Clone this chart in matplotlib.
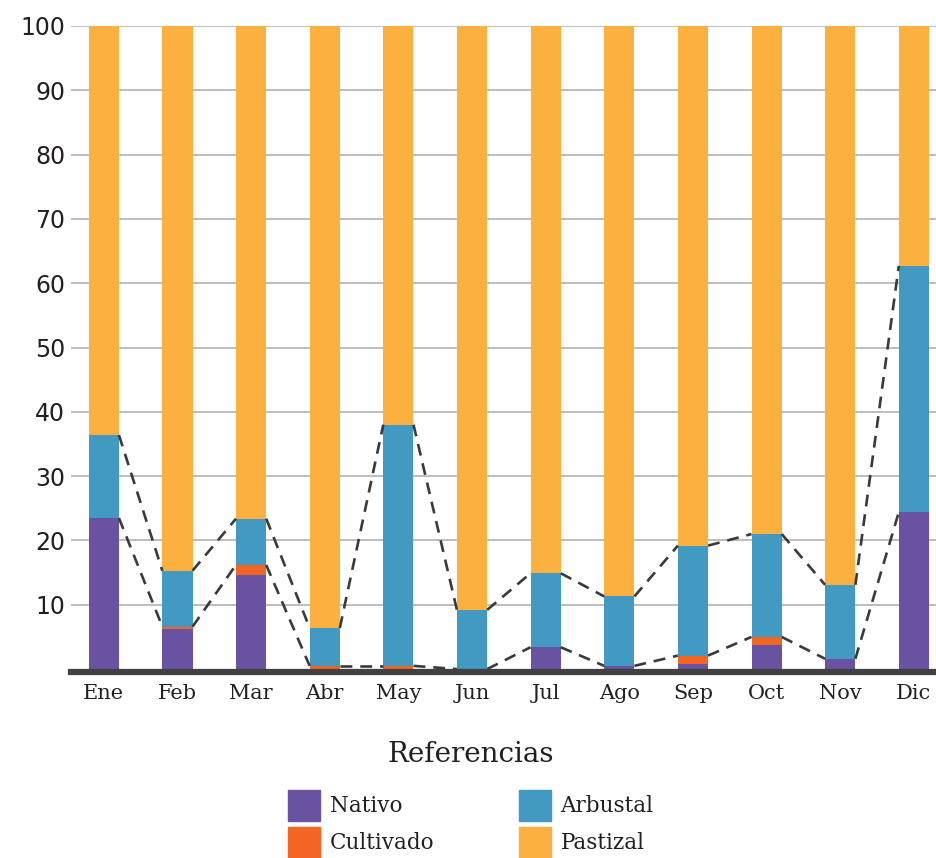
import numpy as np
import matplotlib.pyplot as plt
from matplotlib.patches import Patch

# datos (%)
meses = ["Ene", "Feb", "Mar", "Abr", "May", "Jun", "Jul", "Ago", "Sep", "Oct", "Nov", "Dic"]
nativo = [23.5, 6.3, 14.7, 0.0, 0.0, 0.0, 3.4, 0.5, 0.8, 3.7, 1.6, 24.4]
cultivado = [0.0, 0.3, 1.5, 0.5, 0.5, 0.0, 0.0, 0.0, 1.3, 1.3, 0.0, 0.0]
arbustal = [12.9, 8.7, 7.2, 5.9, 37.5, 9.2, 11.5, 10.8, 17.1, 16.0, 11.5, 38.3]
pastizal = [100 - n - c - a for n, c, a in zip(nativo, cultivado, arbustal)]

c_nat = "#6a52a2"
c_cul = "#f26522"
c_arb = "#4299c1"
c_pas = "#fbb040"
txt = "#231f20"

fig = plt.figure(figsize=(9.36, 8.58), dpi=100)
ax = fig.add_axes([0.0755, 0.2168, 0.9245, 0.7529])

x = np.arange(len(meses))
w = 0.41
b1 = np.array(nativo)
b2 = b1 + np.array(cultivado)
b3 = b2 + np.array(arbustal)
ax.bar(x, nativo, w, color=c_nat, zorder=3)
ax.bar(x, cultivado, w, bottom=b1, color=c_cul, zorder=3)
ax.bar(x, arbustal, w, bottom=b2, color=c_arb, zorder=3)
ax.bar(x, pastizal, w, bottom=b3, color=c_pas, zorder=3)

# lineas de serie entre barras
for tops in (b2, b3):
    for i in range(len(x) - 1):
        ax.plot([x[i] + w / 2, x[i + 1] - w / 2], [tops[i], tops[i + 1]],
                color="#3a3a3a", lw=1.9, ls=(0, (4.5, 3)), zorder=4)

ax.set_xlim(-0.45, 11.3)
ax.set_ylim(-0.45, 100)
ax.set_yticks(range(10, 101, 10))
ax.set_xticks(x)
ax.set_xticklabels(meses, fontsize=15, family="DejaVu Serif", color=txt)
for t in ax.get_yticklabels():
    t.set_fontsize(17)
    t.set_color(txt)
ax.tick_params(length=0)
ax.tick_params(axis="x", pad=9)
ax.tick_params(axis="y", pad=4)
ax.grid(axis="y", color="#b8b8b8", lw=1.3, zorder=0)
for s in ["top", "right", "left"]:
    ax.spines[s].set_visible(False)
ax.spines["bottom"].set_color("#414042")
ax.spines["bottom"].set_linewidth(4.5)
ax.spines["bottom"].set_zorder(5)

# leyenda
fig.text(0.503, 1 - 755 / 858, "Referencias", ha="center", va="center",
         family="DejaVu Serif", size=20, color=txt)
handles = [Patch(color=c_nat, label="Nativo"), Patch(color=c_cul, label="Cultivado"),
           Patch(color=c_arb, label="Arbustal"), Patch(color=c_pas, label="Pastizal")]
leg = fig.legend(handles=handles, ncol=2, loc="upper center", bbox_to_anchor=(0.503, 1 - 779 / 858),
                 frameon=False, prop={"family": "DejaVu Serif", "size": 15.5},
                 handlelength=1.5, handleheight=1.85, handletextpad=0.45, borderpad=0,
                 labelspacing=0.26, columnspacing=3.9)
for t in leg.get_texts():
    t.set_color(txt)

fig.savefig("out.png", dpi=100)
